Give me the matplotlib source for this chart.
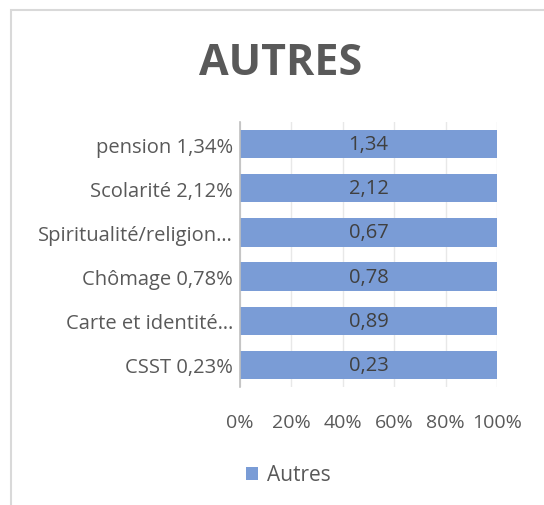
import matplotlib.pyplot as plt
from matplotlib.patches import Rectangle

categories = ["CSST 0,23%", "Carte et identité…", "Chômage 0,78%",
              "Spiritualité/religion…", "Scolarité 2,12%", "pension 1,34%"]
values = [0.23, 0.89, 0.78, 0.67, 2.12, 1.34]
labels = ["0,23", "0,89", "0,78", "0,67", "2,12", "1,34"]
ticks = [0, 20, 40, 60, 80, 100]

plt.rcParams['font.family'] = ['Open Sans', 'DejaVu Sans']

fig = plt.figure(figsize=(5.44, 5.06), dpi=100)
# chart frame
fig.patches.append(Rectangle((11/544, -0.1), 1.0, 1 - 11/506 + 0.1,
                             transform=fig.transFigure, fill=False,
                             edgecolor='#D9D9D9', linewidth=1.5))

ax = fig.add_axes([240/544, 1 - 388/506, 257/544, 265/506])

# single series in a 100% stacked chart -> every bar is full width
pct = [v / v * 100 for v in values]
y = range(len(categories))
bars = ax.barh(y, pct, height=0.64, color='#7A9CD6', zorder=2, label='Autres')
for b, t in zip(bars, labels):
    ax.text(50, b.get_y() + b.get_height() / 2, t, ha='center', va='center',
            fontsize=14.5, color='#404040', zorder=4)

ax.set_xlim(0, 100)
ax.set_ylim(-0.5, 5.5)
ax.set_xticks(ticks)
ax.set_xticklabels([f"{t}%" for t in ticks], fontsize=14, color='#595959')
ax.set_yticks(list(y))
ax.set_yticklabels(categories, fontsize=14.5, color='#595959')
ax.tick_params(axis='both', length=0)
ax.tick_params(axis='x', pad=19)
ax.tick_params(axis='y', pad=5)
ax.grid(axis='x', color='#D9D9D9', linewidth=1, alpha=0.6, zorder=3)
for s in ['top', 'right', 'bottom']:
    ax.spines[s].set_visible(False)
ax.spines['left'].set_color('#BFBFBF')
ax.spines['left'].set_linewidth(1.2)

fig.text(281/544, 1 - 64/506, "AUTRES", ha='center', va='center',
         fontsize=31, fontweight='bold', color='#595959')

fig.legend(handles=[bars], labels=['Autres'], loc='center',
           bbox_to_anchor=(288/544, 1 - 476/506), frameon=False,
           fontsize=15, labelcolor='#595959', handlelength=0.6,
           handleheight=0.6, handletextpad=0.4)

fig.savefig('out.png', dpi=100)
